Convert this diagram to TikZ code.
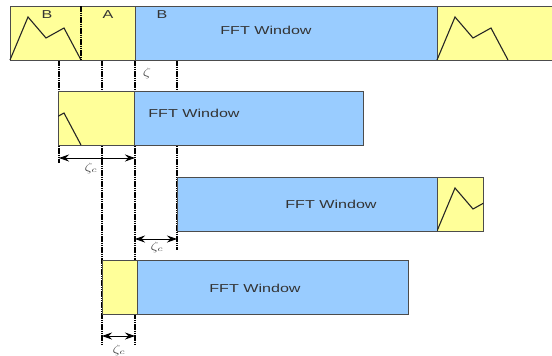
\documentclass[tikz,border=0pt]{standalone}
\usepackage{fontspec}
\setmainfont{Liberation Sans}
\usetikzlibrary{arrows.meta}
\definecolor{guardyellow}{HTML}{FFFF99}
\definecolor{fftblue}{HTML}{99CCFF}
% one echo peak, shifted to the top left corner of a slot
\newcommand{\peakat}[1]{\draw[peak, shift={#1}] (0,54) -- (18,11) -- (36,32) -- (54,22) -- (71,54);}

\begin{document}
\begin{tikzpicture}[x=1pt, y=-1pt,
      guard/.style={draw=black!70, fill=guardyellow, anchor=north west,
                    minimum height=54pt, inner sep=0pt},
      fft/.style={draw=black!70, fill=fftblue, anchor=north west,
                  minimum height=54pt, inner sep=0pt},
      lbl/.style={font=\fontsize{11.5}{13}\selectfont, xscale=1.4, text=black!80},
      sym/.style={font=\large, xscale=1.35, text=black!75},
      marker/.style={line width=1.4pt, dash pattern=on 1.5pt off 0.7pt},
      peak/.style={line width=1.1pt, draw=black!85},
      >={Stealth[length=10pt, width=7pt]}]
    \clip (0,0) rectangle (552,356);
    % timing marks
    \coordinate (m1) at (59,60);  \coordinate (m1e) at (59,163);
    \coordinate (m2) at (102,60); \coordinate (m2e) at (102,346);
    \coordinate (m3) at (135,60); \coordinate (m3e) at (135,346);
    \coordinate (m4) at (177,60); \coordinate (m4e) at (177,250);
    \foreach \m in {1,...,4}
      \draw[marker] (m\m) -- (m\m e);
    % symbol 1
    \node[guard, minimum width=125pt] (g1) at (10,6) {};
    \node[fft, minimum width=302pt] (w1) at (135,6) {};
    \node[guard, minimum width=130pt] (g1r) at (437,6) {};
    \peakat{(10,6)}
    \peakat{(437,6)}
    \draw[marker] (81,6) -- (81,60);
    \node[lbl] (lb1) at (47,15) {B};
    \node[lbl] (la1) at (108,15) {A};
    \node[lbl] (lb2) at (162,15) {B};
    \node[lbl] (f1) at (266,30) {FFT Window};
    \node[sym] (z) at (147,73) {$\zeta$};
    % symbol 2
    \node[guard, minimum width=76pt] (g2) at (58,91) {};
    \node[fft, minimum width=229pt] (w2) at (134,91) {};
    \begin{scope}
      \clip (g2.north west) rectangle (g2.south east);
      \peakat{(10,91)}
    \end{scope}
    \node[lbl] (f2) at (194,113) {FFT Window};
    % symbol 3
    \node[fft, minimum width=260pt] (w3) at (177,177) {};
    \node[guard, minimum width=46pt] (g3) at (437,177) {};
    \begin{scope}
      \clip (g3.north west) rectangle (g3.south east);
      \peakat{(437,177)}
    \end{scope}
    \node[lbl] (f3) at (331,204) {FFT Window};
    % symbol 4
    \node[guard, minimum width=35pt] (g4) at (102,260) {};
    \node[fft, minimum width=271pt] (w4) at (137,260) {};
    \node[lbl] (f4) at (255,288) {FFT Window};
    % offsets
    \coordinate (a1) at (59,158);  \coordinate (b1) at (135,158);
    \coordinate (a2) at (135,239); \coordinate (b2) at (177,239);
    \coordinate (a3) at (102,336); \coordinate (b3) at (135,336);
    \draw[<->, thick] (a1) -- (b1);
    \draw[<->, thick] (a2) -- (b2);
    \draw[<->, thick] (a3) -- (b3);
    \node[sym] (z1) at (91,168) {$\zeta_c$};
    \node[sym] (z2) at (157,247) {$\zeta_c$};
    \node[sym] (z3) at (119,350) {$\zeta_c$};
  \end{tikzpicture}
\end{document}
